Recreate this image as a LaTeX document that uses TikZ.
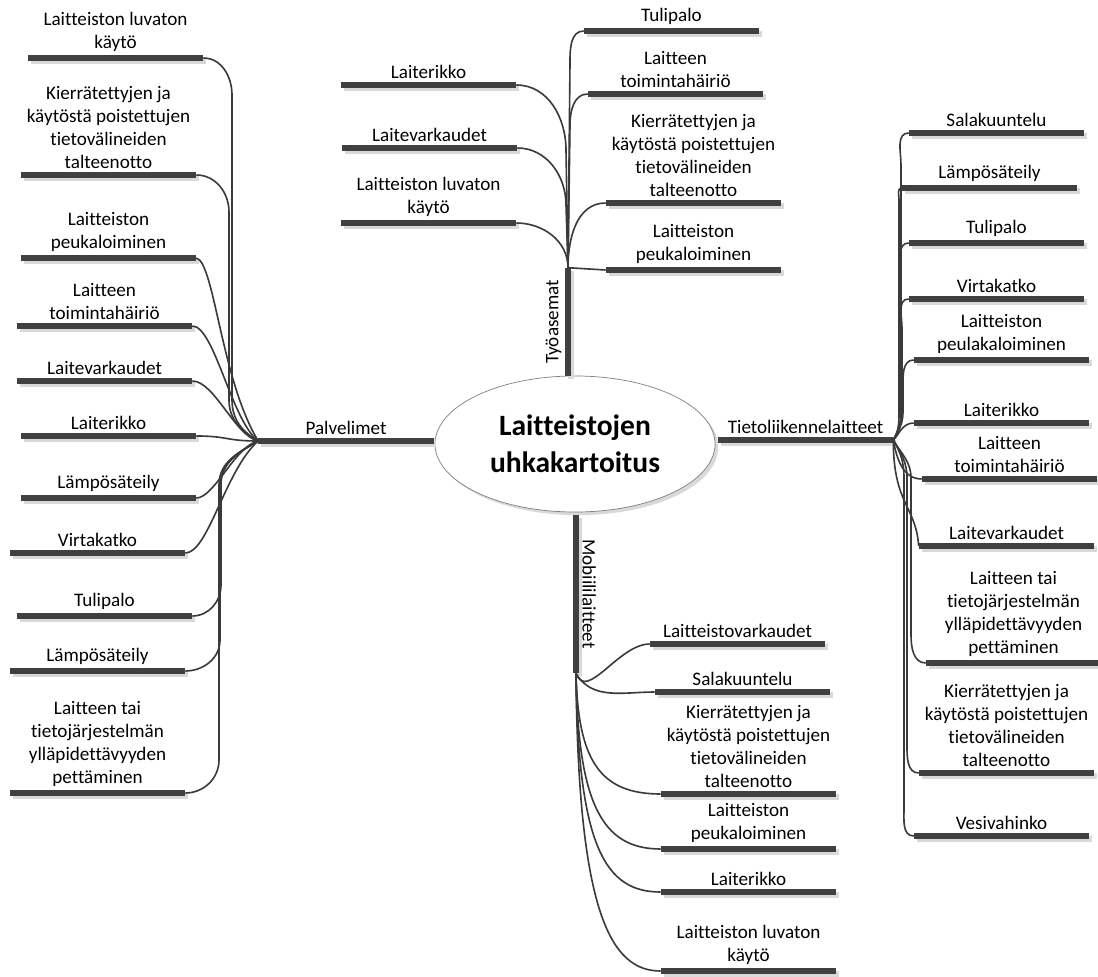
\documentclass[tikz,border=0pt]{standalone}
\usepackage{fontspec}
\setmainfont{Carlito}[Ligatures=NoCommon]
\usepackage{tikz}
\usetikzlibrary{shadows, shapes.geometric}
\definecolor{cbar}{HTML}{404040}
\definecolor{cshadow}{HTML}{D9D9D9}
\definecolor{cline}{HTML}{3A3A3A}
\definecolor{crim}{HTML}{7F7F7F}

\begin{document}
\begin{tikzpicture}[
  x=0.025cm, y=0.025cm,
  barbase/.style={
    rectangle, fill=cbar, inner sep=0pt,
    drop shadow={shadow xshift=0.07cm, shadow yshift=-0.07cm,
                 fill=cshadow, opacity=1}
  },
  leafbar/.style={
    barbase, minimum width=4.375cm, minimum height=0.16cm
  },
  upbar/.style={
    barbase, minimum width=0.16cm
  },
  leaftext/.style={
    font=\fontsize{13.6}{16.4}\selectfont, align=center, inner sep=2pt
  },
  twig/.style={
    draw=cline, line width=1.15pt
  },
  font=\fontsize{13.6}{16.4}\selectfont
]
\useasboundingbox (0,0) rectangle (1098,-977);

% ============================================================
% Centre: title ellipse and the four main branches
% ============================================================
\node[ellipse, draw=crim, line width=0.5pt, fill=white,
      minimum width=7cm, minimum height=3.4cm, align=center,
      font=\fontsize{21}{26.3}\selectfont\bfseries,
      drop shadow={shadow xshift=0.08cm, shadow yshift=-0.08cm,
                   fill=cshadow, opacity=1}]
  (root) at (575,-444) {Laitteistojen\\uhkakartoitus};

\node[leafbar, label={[leaftext]above:Palvelimet}] (palv) at (346,-441) {};
\node[leafbar, label={[leaftext]above:Tietoliikennelaitteet}] (tiet) at (805.5,-440) {};
\node[upbar, minimum height=2.7cm] (tyo) at (568,-322) {};
\node[upbar, minimum height=3.95cm] (mobi) at (576,-594) {};
\node[leaftext, rotate=90, anchor=south] (tyolab) at (tyo.west) {Työasemat};
\node[leaftext, rotate=-90, anchor=south] (mobilab) at (mobi.east) {Mobiililaitteet};

% ============================================================
% Left band: Palvelimet
% ============================================================
\foreach \n/\xl/\yb/\txt in {
    1/28/58/{Laitteiston luvaton\\käytö},
    2/21/175/{Kierrätettyjen ja\\käytöstä poistettujen\\tietovälineiden\\talteenotto},
    3/21/258/{Laitteiston\\peukaloiminen},
    4/17/326/{Laitteen\\toimintahäiriö},
    5/17/381/{Laitevarkaudet},
    6/21/436/{Laiterikko},
    7/21/498/{Lämpösäteily},
    8/10/553/{Virtakatko},
    9/17/616/{Tulipalo},
    10/10/671/{Lämpösäteily},
    11/10/793/{Laitteen tai\\tietojärjestelmän\\ylläpidettävyyden\\pettäminen}} {
  \node[leafbar, label={[leaftext]above:{\txt}}] (pv\n) at (\xl+87.5,-\yb) {};
}

% long ones run down a common rail
\foreach \n/\xv/\ya in {1/232/95, 2/229/212} {
  \draw[twig] (pv\n.east) to[out=0,in=90] (\xv,-\ya) -- (\xv,-400)
    to[out=-90,in=150] (palv.west);
}
\draw[twig] (pv3.east) .. controls +(18,-4) and +(-37,61) .. (palv.west);
\draw[twig] (pv4.east) .. controls +(22,0) and +(-27,21) .. (palv.west);
\draw[twig] (pv5.east) .. controls +(22,0) and +(-23,5) .. (palv.west);
\draw[twig] (pv6.east) .. controls +(32,0) and +(-33,0) .. (palv.west);
\draw[twig] (pv7.east) .. controls +(18,0) and +(-23,-5) .. (palv.west);
\draw[twig] (pv8.east) .. controls +(23,0) and +(-33,-29) .. (palv.west);
\foreach \n/\xv/\ya in {9/221/585, 10/220/640, 11/219/760} {
  \draw[twig] (pv\n.east) to[out=0,in=-90] (\xv,-\ya) -- (\xv,-485)
    to[out=90,in=-150] (palv.west);
}

% ============================================================
% Top band: Työasemat
% ============================================================
\foreach \n/\xl/\yb/\txt in {
    1/341/85/{Laiterikko},
    2/342/148/{Laitevarkaudet},
    3/341/223/{Laitteiston luvaton\\käytö},
    4/584/31/{Tulipalo},
    5/588/94/{Laitteen\\toimintahäiriö},
    6/606/203/{Kierrätettyjen ja\\käytöstä poistettujen\\tietovälineiden\\talteenotto},
    7/606/270/{Laitteiston\\peukaloiminen}} {
  \node[leafbar, label={[leaftext]above:{\txt}}] (ty\n) at (\xl+87.5,-\yb) {};
}

\foreach \n/\xv/\ya in {1/566/150, 2/566/205} {
  \draw[twig] (ty\n.east) to[out=0,in=90] (\xv,-\ya) -- (tyo.north);
}
\draw[twig] (ty3.east) to[out=0,in=90] (tyo.north);
\foreach \n/\xv/\ya in {4/570/62, 5/570/125} {
  \draw[twig] (ty\n.west) to[out=180,in=90] (\xv,-\ya) -- (tyo.north);
}
\draw[twig] (ty6.west) to[out=180,in=90] (tyo.north);
\draw[twig] (ty7.west) -- (tyo.north);

% ============================================================
% Right band: Tietoliikennelaitteet
% ============================================================
\foreach \n/\xl/\yb/\txt in {
    1/909/133/{Salakuuntelu},
    2/902/188/{Lämpösäteily},
    3/909/243/{Tulipalo},
    4/909/299/{Virtakatko},
    5/914/360/{Laitteiston\\peulakaloiminen},
    6/914/423/{Laiterikko},
    7/922/479/{Laitteen\\toimintahäiriö},
    8/919/546/{Laitevarkaudet},
    9/926/663/{Laitteen tai\\tietojärjestelmän\\ylläpidettävyyden\\pettäminen},
    10/919/773/{Kierrätettyjen ja\\käytöstä poistettujen\\tietovälineiden\\talteenotto},
    11/914/836/{Vesivahinko}} {
  \node[leafbar, label={[leaftext]above:{\txt}}] (tk\n) at (\xl+87.5,-\yb) {};
}

\foreach \n/\xv/\ya in {1/901/165, 2/899/200, 3/901/272, 4/902/328, 5/903/388} {
  \draw[twig] (tk\n.west) to[out=180,in=90] (\xv,-\ya) -- (\xv,-412)
    to[out=-90,in=60] (tiet.east);
}
\draw[twig] (tk6.west) .. controls +(-12,0) and +(5,4) .. (tiet.east);
\draw[twig] (tiet.east) to[out=-80,in=180] (tk7.west);
\draw[twig] (tiet.east) .. controls +(0,-65) and +(-3,41) .. (tk8.west);
\foreach \n/\xv/\yb in {9/911/635, 10/907/745, 11/904/808} {
  \draw[twig] (tiet.east) to[out=-60,in=90] (\xv,-478) -- (\xv,-\yb)
    to[out=-90,in=180] (tk\n.west);
}

% ============================================================
% Bottom band: Mobiililaitteet
% ============================================================
\foreach \n/\xl/\yb/\txt in {
    1/650/644/{Laitteistovarkaudet},
    2/655/692/{Salakuuntelu},
    3/661/794/{Kierrätettyjen ja\\käytöstä poistettujen\\tietovälineiden\\talteenotto},
    4/661/849/{Laitteiston\\peukaloiminen},
    5/661/892/{Laiterikko},
    6/661/971/{Laitteiston luvaton\\käytö}} {
  \node[leafbar, label={[leaftext]above:{\txt}}] (mb\n) at (\xl+87.5,-\yb) {};
}

\draw[twig] (mobi.south) to[out=-70,in=180] (mb1.west);
\draw[twig] (mobi.south) to[out=-60,in=180] (mb2.west);
\foreach \n/\dy/\dx in {3/87/61, 4/130/59, 5/175/55, 6/240/50} {
  \draw[twig] (mobi.south) .. controls +(2,-\dy) and +(-\dx,0) .. (mb\n.west);
}

\end{tikzpicture}
\end{document}
